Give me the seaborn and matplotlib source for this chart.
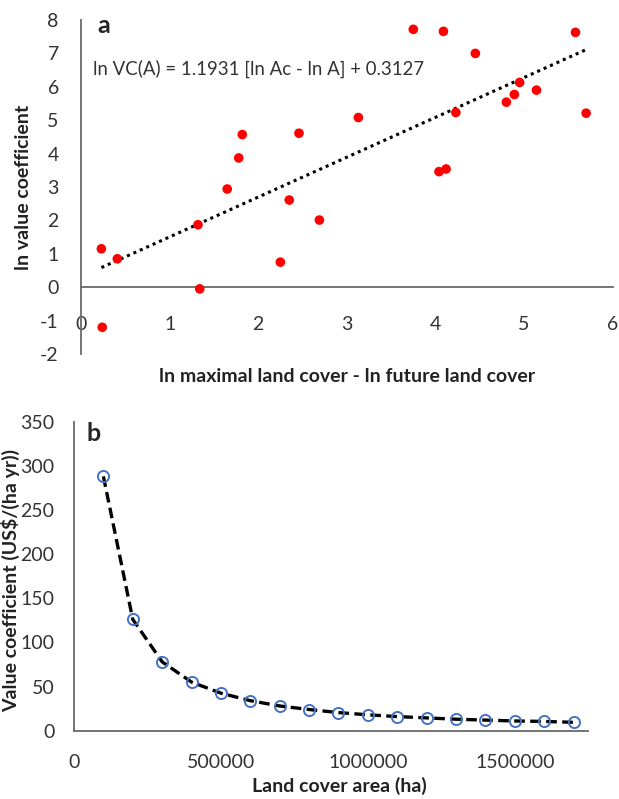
import seaborn as sns
import matplotlib.pyplot as plt
import matplotlib.ticker as ticker

# panel a: ln(max land cover) - ln(future land cover) vs ln value coefficient
ln_area_diff = [0.23, 0.24, 0.41, 1.32, 1.34, 1.65, 1.78, 1.82, 2.25, 2.35, 2.46, 2.69, 3.13,
                3.75, 4.04, 4.09, 4.12, 4.23, 4.45, 4.80, 4.89, 4.95, 5.14, 5.58, 5.70]
ln_value_coef = [1.15, -1.2, 0.85, 1.87, -0.05, 2.94, 3.87, 4.57, 0.75, 2.61, 4.61, 2.01, 5.08,
                 7.72, 3.46, 7.66, 3.54, 5.23, 7.00, 5.54, 5.77, 6.13, 5.90, 7.63, 5.21]
slope, intercept = 1.1931, 0.3127

# panel b: value coefficient vs land cover area
land_area = [100000, 200000, 300000, 400000, 500000, 600000, 700000, 800000, 900000,
             1000000, 1100000, 1200000, 1300000, 1400000, 1500000, 1600000, 1700000]
value_coef = [288, 126, 78, 55, 42.5, 34, 28, 24, 20.5, 18, 16, 14.5, 13, 12, 11, 10.5, 9.5]

sns.set_theme(style="white")
plt.rcParams['font.family'] = ['Lato', 'DejaVu Sans']
plt.rcParams['axes.unicode_minus'] = False
axis_col = "#6a6a6a"
tick_fs = 14
lab_fs = 14

fig = plt.figure(figsize=(6.19, 7.99), dpi=100)

# ---- panel a
ax1 = fig.add_axes([81 / 619, 1 - 354 / 799, 531.7 / 619, 334 / 799])
sns.scatterplot(x=ln_area_diff, y=ln_value_coef, color="#ff0000", s=48, edgecolor="none", ax=ax1, zorder=3)
x_fit = [min(ln_area_diff), max(ln_area_diff)]
y_fit = [slope * v + intercept for v in x_fit]
sns.lineplot(x=x_fit, y=y_fit, color="black", linestyle=(0, (1, 1.3)), linewidth=2.2, ax=ax1, zorder=2)
ax1.set_xlim(0, 6)
ax1.set_ylim(-2, 8)
ax1.set_xticks(range(0, 7))
ax1.set_yticks(range(-2, 9))
ax1.spines[['top', 'right']].set_visible(False)
ax1.spines['bottom'].set_position(('data', 0))
for s in ['left', 'bottom']:
    ax1.spines[s].set_color(axis_col)
    ax1.spines[s].set_linewidth(1.3)
ax1.tick_params(axis='x', direction='out', length=6, width=1.3, color=axis_col, pad=15, labelsize=tick_fs, labelcolor="#333333")
ax1.tick_params(axis='y', direction='out', length=7, width=1.3, color=axis_col, pad=9, labelsize=tick_fs, labelcolor="#333333")
ax1.set_xlabel("ln maximal land cover - ln future land cover", fontsize=lab_fs, fontweight="bold", color="#222222")
ax1.set_ylabel("ln value coefficient", fontsize=lab_fs, fontweight="bold", color="#222222")
ax1.xaxis.set_label_coords(0.5, -(377 - 354) / 334)
ax1.xaxis.label.set_va('center')
ax1.yaxis.set_label_coords(-(81 - 24) / 531.7, 0.5)
ax1.yaxis.label.set_va('center')
ax1.text(0.03, 0.985, "a", transform=ax1.transAxes, fontsize=18, fontweight="bold", va="center", ha="left")
ax1.text(0.023, 0.855, "ln VC(A) = 1.1931 [ln Ac - ln A] + 0.3127", transform=ax1.transAxes,
         fontsize=13.4, va="center", ha="left", color="#333333")

# ---- panel b
ax2 = fig.add_axes([74 / 619, 1 - 730.7 / 799, 514.3 / 619, 309.1 / 799])
sns.lineplot(x=land_area, y=value_coef, color="black", linestyle=(0, (3.2, 1.6)), linewidth=2.4,
             marker="o", markersize=8, markerfacecolor="none", markeredgecolor="#4472c4",
             markeredgewidth=1.4, ax=ax2)
ax2.set_xlim(0, 1750000)
ax2.set_ylim(0, 350)
ax2.set_xticks([0, 500000, 1000000, 1500000])
ax2.set_yticks(range(0, 351, 50))
ax2.xaxis.set_major_formatter(ticker.FormatStrFormatter('%d'))
ax2.spines[['top', 'right']].set_visible(False)
for s in ['left', 'bottom']:
    ax2.spines[s].set_color(axis_col)
    ax2.spines[s].set_linewidth(1.3)
ax2.tick_params(axis='x', direction='out', length=7, width=1.3, color=axis_col, pad=10, labelsize=tick_fs, labelcolor="#333333")
ax2.tick_params(axis='y', direction='out', length=6, width=1.3, color=axis_col, pad=8, labelsize=tick_fs, labelcolor="#333333")
ax2.set_xlabel("Land cover area (ha)", fontsize=lab_fs, fontweight="bold", color="#222222")
ax2.set_ylabel("Value coefficient (US$/(ha yr))", fontsize=lab_fs, fontweight="bold", color="#222222")
ax2.xaxis.set_label_coords((339 - 74) / 514.3, -(786 - 730.7) / 309.1)
ax2.xaxis.label.set_va('center')
ax2.yaxis.set_label_coords(-(74 - 10.5) / 514.3, (730.7 - 580) / 309.1)
ax2.yaxis.label.set_va('center')
ax2.text(0.025, 0.96, "b", transform=ax2.transAxes, fontsize=18, fontweight="bold", va="center", ha="left")

fig.savefig("out.png", dpi=100)
